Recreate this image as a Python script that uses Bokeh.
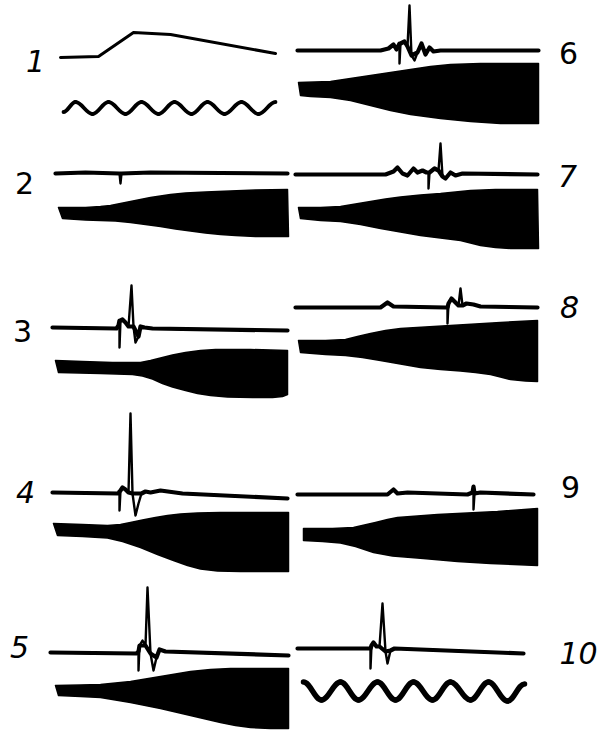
from bokeh.plotting import figure
from bokeh.models import Range1d, ColumnDataSource
from bokeh.embed import file_html
from bokeh.resources import INLINE
from bokeh.core.properties import value

# ---------------- data (local units: t = time along trace, v = deflection, up positive) ----------
PANEL_IDS = [1, 2, 3, 4, 5, 6, 7, 8, 9, 10]
PANEL_LABELS = ["1", "2", "3", "4", "5", "6", "7", "8", "9", "10"]

# Panel 1: slow potential (ramp) trace
TRACE_T_1 = [0, 38, 73, 110, 215]
TRACE_V_1 = [0, 1, 25, 23, 4]

# Panel 1 and 10: time-marker sine waves (extrema only)
WAVE_T_1 = [0, 12, 29, 45, 62, 78, 95, 111, 128, 144, 161, 178, 195, 212]
WAVE_V_1 = [-4, 6, -6, 6, -6, 6, -6, 6, -6, 6, -6, 6, -6, 6]
WAVE_T_10 = [0, 18, 37, 55, 74, 92, 110, 129, 147, 167, 185, 204, 221]
WAVE_V_10 = [9, -9, 9, -9, 9, -9, 9, -9, 9, -9, 9, -10, 7]

# Action-potential traces
TRACE_T_2 = [0, 30, 64, 65, 66, 95, 232]
TRACE_V_2 = [0, 1, 0, -10, 0, 1, 0]
TRACE_T_3 = [0, 64, 66, 67, 67, 68, 70, 73, 76, 79, 81, 83, 86, 88, 92, 100, 235]
TRACE_V_3 = [1, 0, 3, 8, -19, 8, 9, 6, 2, 43, 2, -14, -8, 2, 1, 0, -2]
TRACE_T_4 = [0, 66, 67, 67, 68, 70, 73, 76, 78, 80, 83, 86, 89, 93, 98, 108, 130, 235]
TRACE_V_4 = [1, 0, 2, -17, 3, 6, 4, 1, 80, 0, -22, -10, 0, 2, 1, 3, 0, -5]
TRACE_T_5 = [0, 86, 88, 88, 89, 92, 95, 97, 100, 103, 106, 109, 115, 238]
TRACE_V_5 = [1, 0, 2, -17, 8, 13, 8, 66, 0, -17, -4, 4, 2, -2]
TRACE_T_6 = [0, 83, 91, 96, 99, 102, 102, 103, 107, 110, 112, 114, 117, 120, 124, 128, 132, 136, 143, 241]
TRACE_V_6 = [0, 0, 2, 6, 1, 7, -13, 7, 9, 4, 45, -5, -10, -2, 7, -4, 3, -1, 0, 0]
TRACE_T_7 = [0, 90, 98, 102, 107, 112, 118, 122, 127, 131, 133, 133, 134, 139, 143, 145, 147, 150, 155, 160, 167, 242]
TRACE_V_7 = [0, 0, 3, 7, 1, -1, 6, 2, 4, 2, 2, -14, 2, 6, 4, 31, -2, -4, 2, -1, 1, 0]
TRACE_T_8 = [0, 85, 92, 98, 150, 152, 152, 153, 156, 159, 163, 165, 167, 171, 178, 185, 242]
TRACE_V_8 = [0, 0, 5, 1, 0, 0, -16, 4, 9, 6, 2, 19, 2, 4, 3, 1, 0]
TRACE_T_9 = [0, 90, 96, 100, 110, 170, 175, 176, 176, 177, 183, 236]
TRACE_V_9 = [0, 0, 5, 1, 2, 0, 2, 8, -15, 1, 2, 0]
TRACE_T_10 = [0, 70, 73, 73, 74, 76, 79, 82, 85, 88, 90, 93, 97, 226]
TRACE_V_10 = [0, 0, 0, -20, 3, 6, 2, 2, 45, -3, -15, -2, 0, -5]

# Envelopes of the mechanical record (top edge and bottom edge, left to right)
ENV_TOP_T_2 = [3, 30, 45, 55, 65, 75, 85, 95, 105, 115, 130, 150, 175, 200, 232]
ENV_TOP_V_2 = [-34, -34, -33, -32, -30, -28, -26, -24, -22.5, -21, -19.5, -18.5, -17.5, -16.5, -16]
ENV_BOT_T_2 = [7, 30, 45, 60, 75, 90, 105, 120, 135, 150, 165, 180, 200, 233]
ENV_BOT_V_2 = [-45, -46.5, -47, -47.5, -49, -51, -53, -55.5, -57.5, -59.5, -61, -62, -63, -63]

ENV_TOP_T_3 = [3, 30, 60, 88, 98, 108, 120, 133, 148, 163, 198, 235]
ENV_TOP_V_3 = [-32, -33, -34, -34, -32, -29.5, -26.5, -24, -22, -21, -21, -22]
ENV_BOT_T_3 = [6, 48, 80, 90, 100, 110, 120, 133, 145, 158, 175, 200, 220, 230, 235]
ENV_BOT_V_3 = [-44, -45, -46, -47.5, -50.5, -55, -58.5, -62, -65, -67, -68.5, -69, -69, -68, -66]

ENV_TOP_T_4 = [1, 30, 55, 68, 78, 90, 103, 115, 128, 145, 168, 236]
ENV_TOP_V_4 = [-30, -31, -32, -31, -29, -26.5, -24, -22, -20.5, -19.5, -19, -19]
ENV_BOT_T_4 = [5, 30, 55, 70, 88, 105, 121, 135, 148, 165, 188, 236]
ENV_BOT_V_4 = [-42, -43, -44.5, -48, -54, -61, -67, -72, -75.5, -77.5, -78, -78]

ENV_TOP_T_5 = [5, 30, 50, 65, 80, 95, 110, 125, 140, 160, 180, 238]
ENV_TOP_V_5 = [-32, -31.5, -31, -29.5, -28, -25.5, -23, -20.5, -18, -16, -15, -15]
ENV_BOT_T_5 = [8, 30, 50, 65, 80, 95, 110, 125, 140, 155, 170, 185, 200, 220, 238]
ENV_BOT_V_5 = [-42, -43, -44, -46.5, -49, -52, -55, -58.5, -62, -65.5, -69, -72, -74, -75, -75]

ENV_TOP_T_6 = [1, 33, 53, 73, 93, 113, 133, 153, 183, 241]
ENV_TOP_V_6 = [-32, -31, -28, -25, -22, -19, -16, -14, -13, -13]
ENV_BOT_T_6 = [3, 13, 33, 53, 73, 93, 113, 143, 173, 203, 241]
ENV_BOT_V_6 = [-45, -46, -47, -50, -55, -60, -64, -68, -71, -73, -73]

ENV_TOP_T_7 = [3, 25, 45, 60, 75, 90, 105, 125, 145, 160, 175, 200, 242]
ENV_TOP_V_7 = [-33, -33, -32, -29.5, -27, -24.5, -22.5, -20.5, -19, -17.5, -16, -15, -15]
ENV_BOT_T_7 = [5, 25, 45, 65, 85, 105, 125, 145, 165, 175, 185, 200, 215, 243]
ENV_BOT_V_7 = [-44, -46, -47, -50, -54, -57.5, -61, -63.5, -66, -68.5, -71, -73, -74, -74]

ENV_TOP_T_8 = [3, 30, 50, 62, 75, 90, 105, 130, 155, 180, 205, 242]
ENV_TOP_V_8 = [-33, -33, -32, -29, -26, -23, -21, -19.5, -18, -16.5, -15, -13]
ENV_BOT_T_8 = [5, 30, 50, 67, 85, 105, 125, 145, 165, 180, 195, 205, 215, 230, 242]
ENV_BOT_V_8 = [-45, -47, -48, -50, -53, -56.5, -60, -62, -63.5, -65, -67, -69.5, -72, -73.5, -74]

ENV_TOP_T_9 = [6, 35, 56, 67, 78, 90, 100, 120, 140, 160, 200, 240]
ENV_TOP_V_9 = [-34, -34, -33, -30.5, -28, -25, -23, -21.5, -20, -19, -17, -14]
ENV_BOT_T_9 = [6, 25, 43, 58, 76, 95, 126, 160, 193, 240]
ENV_BOT_V_9 = [-46, -47, -48.5, -52, -58, -61.5, -64, -67, -69, -71]

# ---------------- layout (page pixel positions) ----------------
W, H = 601, 733
ORIGIN = {1: (60, 57), 2: (55, 173), 3: (52, 328), 4: (52, 493), 5: (50, 653),
          6: (297, 50), 7: (295, 174), 8: (295, 307), 9: (297, 494), 10: (297, 648)}
WAVE_ORIGIN = {1: (63, 107.5), 10: (303, 690.5)}
WAVE_WIDTH = {1: 3.8, 10: 5.5}
LABEL_XY = {1: (35, 60), 2: (24, 182), 3: (22, 330), 4: (25, 491), 5: (19, 646),
            6: (568, 52), 7: (567, 175), 8: (569, 306), 9: (570, 486), 10: (578, 652)}
LABEL_STYLE = {1: "italic", 2: "normal", 3: "normal", 4: "italic", 5: "italic",
               6: "normal", 7: "italic", 8: "italic", 9: "normal", 10: "italic"}
BAND_LIMIT = 9  # deflections smaller than this are drawn inside the thick noisy baseline band

TRACES = {1: (TRACE_T_1, TRACE_V_1), 2: (TRACE_T_2, TRACE_V_2), 3: (TRACE_T_3, TRACE_V_3),
          4: (TRACE_T_4, TRACE_V_4), 5: (TRACE_T_5, TRACE_V_5), 6: (TRACE_T_6, TRACE_V_6),
          7: (TRACE_T_7, TRACE_V_7), 8: (TRACE_T_8, TRACE_V_8), 9: (TRACE_T_9, TRACE_V_9),
          10: (TRACE_T_10, TRACE_V_10)}
ENVS = {2: (ENV_TOP_T_2, ENV_TOP_V_2, ENV_BOT_T_2, ENV_BOT_V_2),
        3: (ENV_TOP_T_3, ENV_TOP_V_3, ENV_BOT_T_3, ENV_BOT_V_3),
        4: (ENV_TOP_T_4, ENV_TOP_V_4, ENV_BOT_T_4, ENV_BOT_V_4),
        5: (ENV_TOP_T_5, ENV_TOP_V_5, ENV_BOT_T_5, ENV_BOT_V_5),
        6: (ENV_TOP_T_6, ENV_TOP_V_6, ENV_BOT_T_6, ENV_BOT_V_6),
        7: (ENV_TOP_T_7, ENV_TOP_V_7, ENV_BOT_T_7, ENV_BOT_V_7),
        8: (ENV_TOP_T_8, ENV_TOP_V_8, ENV_BOT_T_8, ENV_BOT_V_8),
        9: (ENV_TOP_T_9, ENV_TOP_V_9, ENV_BOT_T_9, ENV_BOT_V_9)}
WAVES = {1: (WAVE_T_1, WAVE_V_1), 10: (WAVE_T_10, WAVE_V_10)}


def to_page(origin, t, v):
    x0, y0 = origin
    return [x0 + a for a in t], [y0 - b for b in v]


p = figure(width=W, height=H, x_range=Range1d(0, W), y_range=Range1d(H, 0),
           x_axis_type=None, y_axis_type=None, toolbar_location=None,
           output_backend="svg", min_border=0, outline_line_color=None,
           background_fill_color="white", border_fill_color="white")

# mechanical envelopes
for pid, (tt, tv, bt, bv) in ENVS.items():
    xs_t, ys_t = to_page(ORIGIN[pid], tt, tv)
    xs_b, ys_b = to_page(ORIGIN[pid], bt, bv)
    p.patch(xs_t + xs_b[::-1], ys_t + ys_b[::-1], fill_color="black",
            line_color="black", line_width=1.5, line_join="round")

# electrical traces: thick noisy baseline band + thinner deflection line
for pid, (t, v) in TRACES.items():
    xs, ys = to_page(ORIGIN[pid], t, v)
    if pid != 1:
        keep = [i for i, b in enumerate(v) if abs(b) <= BAND_LIMIT]
        p.line([xs[i] for i in keep], [ys[i] for i in keep], line_color="black",
               line_width=4.2, line_join="round", line_cap="round")
        p.line(xs, ys, line_color="black", line_width=2.4, line_join="round", line_cap="round")
    else:
        p.line(xs, ys, line_color="black", line_width=3.0, line_join="round", line_cap="round")

# sine time markers drawn as smooth bezier segments between extrema
for pid, (t, v) in WAVES.items():
    xs, ys = to_page(WAVE_ORIGIN[pid], t, v)
    k = 0.37
    src = ColumnDataSource(dict(
        x0=xs[:-1], y0=ys[:-1], x1=xs[1:], y1=ys[1:],
        cx0=[a + k * (b - a) for a, b in zip(xs[:-1], xs[1:])], cy0=ys[:-1],
        cx1=[b - k * (b - a) for a, b in zip(xs[:-1], xs[1:])], cy1=ys[1:]))
    p.bezier(x0="x0", y0="y0", x1="x1", y1="y1", cx0="cx0", cy0="cy0",
             cx1="cx1", cy1="cy1", source=src, line_color="black",
             line_width=WAVE_WIDTH[pid], line_cap="round")

# panel numbers
lab = ColumnDataSource(dict(
    x=[LABEL_XY[i][0] for i in PANEL_IDS], y=[LABEL_XY[i][1] for i in PANEL_IDS],
    text=PANEL_LABELS, style=[LABEL_STYLE[i] for i in PANEL_IDS]))
p.text(x="x", y="y", text="text", source=lab, text_font=value("DejaVu Sans"),
       text_font_size="30px", text_font_style="style", text_align="center",
       text_baseline="middle", text_color="black")

open("out.html", "w").write(file_html(p, INLINE))
